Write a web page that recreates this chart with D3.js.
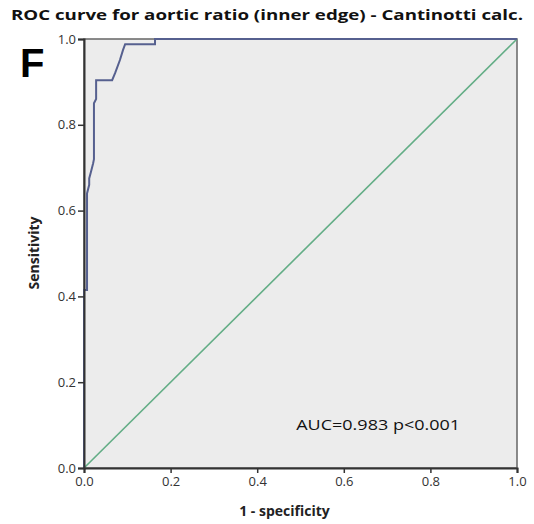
<!DOCTYPE html>
<html>
<head>
<meta charset="utf-8">
<script src="https://cdn.jsdelivr.net/npm/d3@7"></script>
<style>
  body { margin: 0; background: #fff; }
  svg { display: block; }
</style>
</head>
<body>
<div id="chart"></div>
<script>
// ROC curve (1 - specificity, sensitivity)
var fpr = [0, 0, 0.007, 0.007, 0.012, 0.012, 0.016, 0.021, 0.023, 0.023, 0.028, 0.028, 0.065, 0.072, 0.083, 0.090, 0.095, 0.164, 0.164, 1];
var tpr = [0, 0.415, 0.415, 0.64, 0.66, 0.675, 0.69, 0.71, 0.72, 0.85, 0.86, 0.904, 0.904, 0.921, 0.951, 0.974, 0.988, 0.988, 1, 1];
var refLine = [0, 1];
var ticks = [0, 0.2, 0.4, 0.6, 0.8, 1.0];
var titleText = "ROC curve for aortic ratio (inner edge) - Cantinotti calc.";
var aucText = "AUC=0.983 p<0.001";

var W = 534, H = 524;
var margin = {top: 39, right: 17, bottom: 56, left: 84},
    width = W - margin.left - margin.right,
    height = H - margin.top - margin.bottom;

var svg = d3.select("#chart").append("svg")
    .attr("width", W)
    .attr("height", H);

var x = d3.scaleLinear().domain([0, 1]).range([0, width]);
var y = d3.scaleLinear().domain([0, 1]).range([height, 0]);

// title + panel letter
svg.append("text")
    .attr("x", 11).attr("y", 20)
    .attr("textLength", 512).attr("lengthAdjust", "spacingAndGlyphs")
    .style("font-family", "'Open Sans', sans-serif")
    .style("font-weight", "bold")
    .style("font-size", "15px")
    .style("fill", "#111")
    .text(titleText);

svg.append("text")
    .attr("x", 20).attr("y", 77)
    .style("font-family", "'Liberation Sans', Arial, sans-serif")
    .style("font-weight", "bold")
    .style("font-size", "40px")
    .style("fill", "#000")
    .text("F");

var g = svg.append("g")
    .attr("transform", "translate(" + margin.left + "," + margin.top + ")");

// plot background with frame
g.append("rect")
    .attr("width", width).attr("height", height)
    .style("fill", "#ececec")
    .style("stroke", "#666")
    .style("stroke-width", 1.5);

// reference diagonal
g.append("line")
    .attr("x1", x(refLine[0])).attr("y1", y(refLine[0]))
    .attr("x2", x(refLine[1])).attr("y2", y(refLine[1]))
    .style("stroke", "#63ad86")
    .style("stroke-width", 1.6);

// roc curve
var line = d3.line()
    .x(function(d) { return x(d[0]); })
    .y(function(d) { return y(d[1]); });

g.append("path")
    .datum(d3.zip(fpr, tpr))
    .attr("d", line)
    .style("fill", "none")
    .style("stroke", "#56608f")
    .style("stroke-width", 2);

// axes
var fmt = d3.format(".1f");
var xAxis = g.append("g")
    .attr("transform", "translate(0," + height + ")")
    .call(d3.axisBottom(x).tickValues(ticks).tickFormat(fmt).tickSize(5).tickPadding(4));
var yAxis = g.append("g")
    .call(d3.axisLeft(y).tickValues(ticks).tickFormat(fmt).tickSize(6).tickPadding(2));

[xAxis, yAxis].forEach(function(a) {
  a.select(".domain").style("stroke", "#333").style("stroke-width", 2);
  a.selectAll(".tick line").style("stroke", "#333").style("stroke-width", 1.5);
  a.selectAll(".tick text")
    .style("font-family", "'Open Sans', sans-serif")
    .style("font-size", "13px")
    .style("fill", "#333");
});

// axis titles
svg.append("text")
    .attr("x", margin.left + width / 2 - 16).attr("y", 516)
    .attr("text-anchor", "middle")
    .style("font-family", "'Open Sans', sans-serif")
    .style("font-weight", "bold")
    .style("font-size", "14px")
    .style("fill", "#222")
    .text("1 - specificity");

svg.append("text")
    .attr("transform", "translate(39,253) rotate(-90)")
    .attr("text-anchor", "middle")
    .style("font-family", "'Open Sans', sans-serif")
    .style("font-weight", "bold")
    .style("font-size", "14px")
    .style("fill", "#222")
    .text("Sensitivity");

// AUC note
g.append("text")
    .attr("x", x(0.49)).attr("y", y(0.1) + 5)
    .attr("textLength", 164).attr("lengthAdjust", "spacingAndGlyphs")
    .style("font-family", "'Open Sans', sans-serif")
    .style("font-size", "15px")
    .style("fill", "#111")
    .text(aucText);
</script>
</body>
</html>
